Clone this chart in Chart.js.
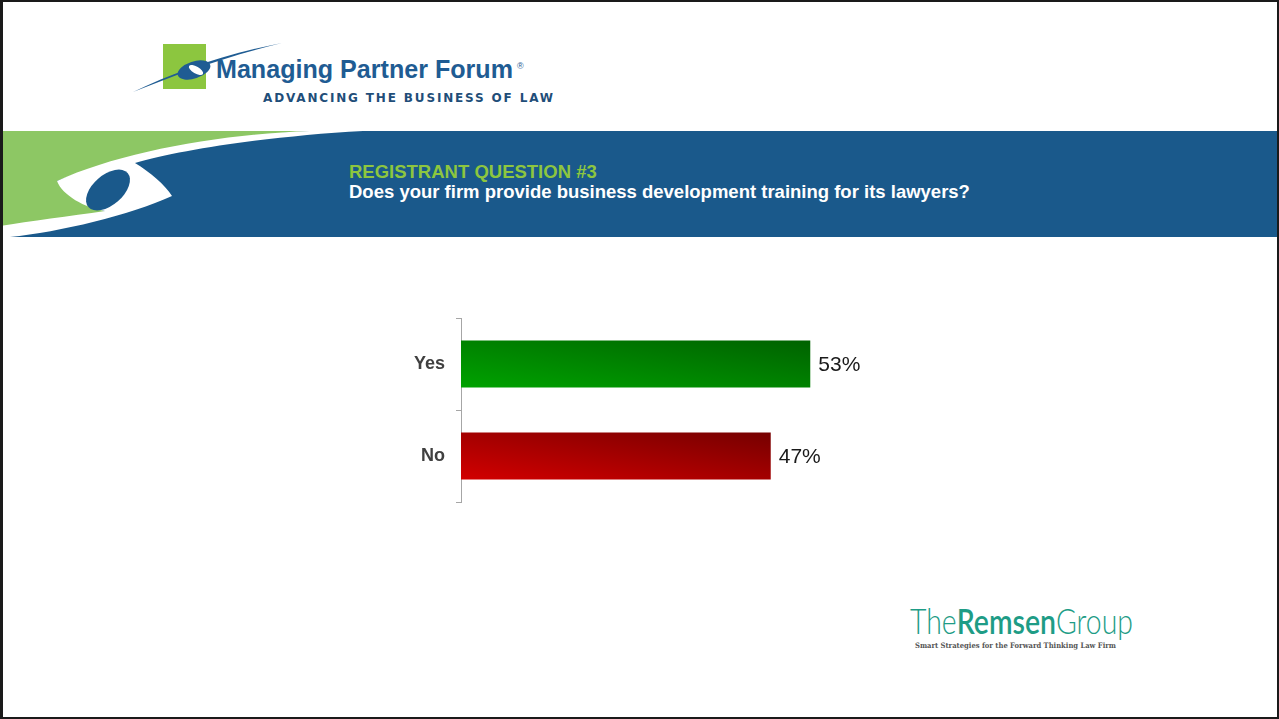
<!DOCTYPE html>
<html>
<head>
<meta charset="utf-8">
<script src="https://cdn.jsdelivr.net/npm/chart.js@4.4.0/dist/chart.umd.min.js"></script>
<style>
  html, body { margin: 0; padding: 0; background: #fff; }
  #slide { position: relative; width: 1279px; height: 719px; overflow: hidden; background: #fff; font-family: "Liberation Sans", Arial, sans-serif; }
  #deco { position: absolute; left: 0; top: 0; }
  #chartBox { position: absolute; left: 300px; top: 308px; width: 900px; height: 204px; }
  #frame { position: absolute; left: 0; top: 0; width: 1279px; height: 719px; box-sizing: border-box; border: 2px solid #1a1a1a; border-left-width: 3px; pointer-events: none; }
</style>
</head>
<body>
<div id="slide">
  <svg id="deco" width="1279" height="719" xmlns="http://www.w3.org/2000/svg">
    <!-- Managing Partner Forum logo -->
    <rect x="163" y="44" width="43" height="45" fill="#8cc63f"/>
    <path d="M133,92 C175,72 225,54 282,43 C228,56 180,73 133,92 Z" fill="#1f5c93"/>
    <ellipse cx="194" cy="70" rx="17" ry="8.5" transform="rotate(-18 194 70)" fill="#1f5c93"/>
    <ellipse cx="196" cy="70" rx="8" ry="3.5" transform="rotate(30 196 70)" fill="#ffffff"/>
    <text x="216" y="78" font-family="Liberation Sans, Arial, sans-serif" font-weight="bold" font-size="25" fill="#1f5c93" textLength="297" lengthAdjust="spacingAndGlyphs">Managing Partner Forum</text>
    <text x="517" y="69" font-family="Liberation Sans, Arial, sans-serif" font-size="9" fill="#1f5c93">®</text>
    <text x="263" y="102" font-family="DejaVu Sans, sans-serif" font-weight="bold" font-size="12" fill="#1f4e79" textLength="290" lengthAdjust="spacing">ADVANCING THE BUSINESS OF LAW</text>

    <!-- banner -->
    <rect x="0" y="131" width="1279" height="106" fill="#1a598b"/>
    <path d="M0,131 L316,131 C220,135 120,155 57,181 L105,212 L0,228 Z" fill="#8dc764"/>
    <path d="M57,181 C62,195 85,208 105,211 C70,216 30,221 0,226 L0,237 L10,237 C60,232 130,215 172,196 C165,185 150,172 135,163 C180,150 270,136 363,131 L310,131 C220,134 120,152 57,181 Z" fill="#ffffff"/>
    <ellipse cx="108" cy="190" rx="26" ry="15" transform="rotate(-41 108 190)" fill="#1a598b"/>
    <text x="349" y="178" font-family="Liberation Sans, Arial, sans-serif" font-weight="bold" font-size="18.5" fill="#8dc63f">REGISTRANT QUESTION #3</text>
    <text x="349" y="198" font-family="Liberation Sans, Arial, sans-serif" font-weight="bold" font-size="18.5" fill="#ffffff">Does your firm provide business development training for its lawyers?</text>

    <!-- The Remsen Group logo -->
    <text x="910" y="634" font-family="Lato, Open Sans, sans-serif" font-size="35" fill="#1e9c86" textLength="223" lengthAdjust="spacingAndGlyphs"><tspan font-weight="300">The</tspan><tspan font-weight="600">Remsen</tspan><tspan font-weight="300">Group</tspan></text>
    <text x="915" y="648" font-family="DejaVu Serif, Liberation Serif, serif" font-weight="bold" font-size="7.5" fill="#555555" textLength="201" lengthAdjust="spacingAndGlyphs">Smart Strategies for the Forward Thinking Law Firm</text>
  </svg>

  <div id="chartBox"><canvas id="chart"></canvas></div>
  <div id="frame"></div>
</div>

<script>
// chart data
const categories = ['Yes', 'No'];
const percentages = [53, 47];
const valueLabels = ['53%', '47%'];

// bar gradient colours: [bright bottom-left, dark top-right]
const barColors = [['#00a200', '#006200'], ['#d20000', '#760000']];

// diagonal gradient like a bounding-box gradient: bottom-left -> top-right corner,
// with the other two corners at the mid colour
function gradientFill(c) {
  const chart = c.chart;
  const pair = barColors[c.dataIndex];
  if (!chart.chartArea) return pair[0];
  const xs = chart.scales.x, ys = chart.scales.y;
  const x0 = xs.getPixelForValue(0);
  const x1 = xs.getPixelForValue(percentages[c.dataIndex]);
  const yc = ys.getPixelForValue(c.dataIndex);
  const h = 47, w = x1 - x0;
  const yb = yc + h / 2;
  const len = Math.sqrt(w * w + h * h);
  const dist = 2 * w * h / len;
  const ux = h / len, uy = -w / len;
  const g = chart.ctx.createLinearGradient(x0, yb, x0 + ux * dist, yb + uy * dist);
  g.addColorStop(0, pair[0]);
  g.addColorStop(1, pair[1]);
  return g;
}

// draws the percentage text at the end of each bar
const valueLabelPlugin = {
  id: 'valueLabels',
  afterDatasetsDraw(chart) {
    const ctx = chart.ctx;
    const meta = chart.getDatasetMeta(0);
    ctx.save();
    ctx.font = '21px "Liberation Sans", Arial, sans-serif';
    ctx.fillStyle = '#1a1a1a';
    ctx.textAlign = 'left';
    ctx.textBaseline = 'middle';
    meta.data.forEach((bar, i) => {
      ctx.fillText(valueLabels[i], bar.x + 8, bar.y + 1);
    });
    ctx.restore();
  }
};

new Chart(document.getElementById('chart'), {
  type: 'bar',
  data: {
    labels: categories,
    datasets: [{
      data: percentages,
      backgroundColor: gradientFill,
      borderWidth: 0,
      barPercentage: 0.51,
      categoryPercentage: 1
    }]
  },
  options: {
    indexAxis: 'y',
    responsive: true,
    maintainAspectRatio: false,
    animation: false,
    layout: { padding: { top: 10, bottom: 10, left: 0, right: 80 } },
    plugins: {
      legend: { display: false },
      tooltip: { enabled: false }
    },
    scales: {
      x: { display: false, min: 0, max: 100 },
      y: {
        grid: { drawOnChartArea: false, tickLength: 5, color: '#a6a6a6', offset: true },
        border: { color: '#a6a6a6' },
        ticks: {
          color: '#404040',
          padding: 11,
          font: { family: '"Liberation Sans", Arial, sans-serif', size: 18, weight: 'bold' }
        },
        afterFit(scale) {
          scale.width = 161;
          scale.paddingTop = 0;
          scale.paddingBottom = 0;
        }
      }
    }
  },
  plugins: [valueLabelPlugin]
});
</script>
</body>
</html>
